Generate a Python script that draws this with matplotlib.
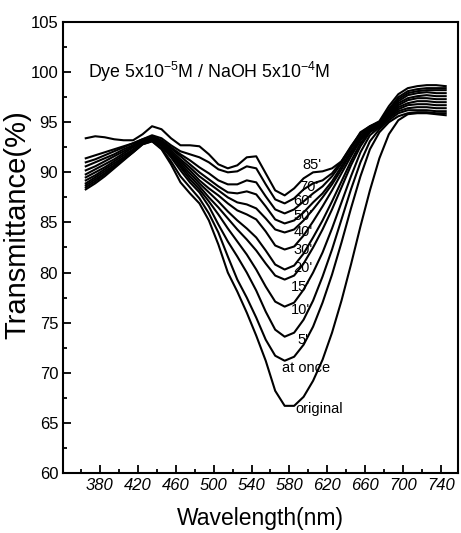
import matplotlib
matplotlib.use("Agg")
import matplotlib.pyplot as plt
from matplotlib.ticker import MultipleLocator

plt.rcParams['font.family'] = ['Liberation Sans', 'DejaVu Sans']
plt.rcParams['mathtext.fontset'] = 'custom'
plt.rcParams['mathtext.rm'] = 'Liberation Sans'

# Datos (transmitancia %, cada 10 nm)
wavelength = [365, 375, 385, 395, 405, 415, 425, 435, 445, 455, 465, 475, 485,
              495, 505, 515, 525, 535, 545, 555, 565, 575, 585, 595, 605, 615,
              625, 635, 645, 655, 665, 675, 685, 695, 705, 715, 725, 735, 745]

t_original = [88.3, 88.9, 89.6, 90.4, 91.2, 92.0, 92.8, 93.1, 92.3, 90.8, 89.0, 87.9, 86.9,
              85.2, 82.8, 80.0, 78.1, 76.0, 73.7, 71.2, 68.2, 66.7, 66.7, 67.6, 69.2, 71.3,
              74.0, 77.2, 80.8, 84.6, 88.2, 91.4, 93.8, 95.2, 95.8, 95.9, 95.9, 95.8, 95.7]
t_at_once = [88.5, 89.1, 89.8, 90.5, 91.3, 92.0, 92.8, 93.1, 92.4, 91.1, 89.6, 88.5, 87.4,
             85.9, 84.0, 81.6, 79.3, 77.5, 75.5, 73.3, 71.7, 71.2, 71.6, 72.8, 74.6, 77.0,
             79.8, 83.0, 86.4, 89.6, 92.3, 94.0, 95.0, 95.6, 95.9, 96.0, 96.0, 95.9, 95.9]
t_5 = [88.7, 89.3, 89.9, 90.6, 91.3, 92.1, 92.9, 93.2, 92.6, 91.5, 90.2, 89.0, 88.0,
       86.6, 84.8, 83.1, 81.6, 80.0, 78.2, 76.1, 74.3, 73.6, 74.0, 75.3, 77.2, 79.6,
       82.3, 85.3, 88.3, 91.0, 93.1, 94.3, 95.2, 95.9, 96.2, 96.2, 96.2, 96.1, 96.1]
t_10 = [88.9, 89.5, 90.1, 90.7, 91.4, 92.2, 92.9, 93.2, 92.7, 91.7, 90.5, 89.3, 88.3,
        87.1, 85.8, 84.4, 83.1, 81.8, 80.3, 78.6, 77.1, 76.6, 77.0, 78.3, 80.0, 82.0,
        84.4, 87.0, 89.6, 92.0, 93.7, 94.5, 95.4, 96.1, 96.4, 96.5, 96.5, 96.4, 96.4]
t_15 = [89.2, 89.7, 90.3, 90.9, 91.5, 92.2, 92.9, 93.2, 92.7, 91.8, 90.7, 89.6, 88.6,
        87.5, 86.5, 85.4, 84.3, 83.3, 82.2, 80.9, 79.7, 79.3, 79.7, 80.9, 82.5, 84.3,
        86.3, 88.5, 90.7, 92.6, 94.0, 94.6, 95.5, 96.3, 96.7, 96.8, 96.8, 96.7, 96.7]
t_20 = [89.5, 90.0, 90.5, 91.1, 91.7, 92.3, 93.0, 93.3, 92.8, 91.9, 90.9, 89.9, 88.9,
        88.0, 87.1, 86.1, 85.2, 84.4, 83.5, 82.2, 80.8, 80.3, 80.7, 81.9, 83.5, 85.2,
        87.1, 89.1, 91.1, 92.9, 94.1, 94.7, 95.6, 96.5, 96.9, 97.1, 97.1, 97.0, 97.0]
t_30 = [89.8, 90.3, 90.8, 91.3, 91.9, 92.5, 93.1, 93.4, 92.9, 92.0, 91.1, 90.2, 89.2,
        88.4, 87.7, 86.9, 86.2, 85.8, 85.3, 84.1, 82.7, 82.3, 82.6, 83.7, 85.1, 86.6,
        88.2, 89.9, 91.6, 93.2, 94.2, 94.7, 95.7, 96.7, 97.2, 97.4, 97.4, 97.3, 97.3]
t_40 = [90.2, 90.6, 91.1, 91.6, 92.1, 92.6, 93.2, 93.4, 93.0, 92.2, 91.3, 90.5, 89.6,
        88.9, 88.2, 87.5, 87.0, 86.8, 86.4, 85.4, 84.3, 84.0, 84.3, 85.2, 86.3, 87.5,
        88.8, 90.3, 91.9, 93.3, 94.3, 94.8, 95.8, 96.9, 97.4, 97.6, 97.7, 97.6, 97.6]
t_50 = [90.6, 91.0, 91.4, 91.8, 92.3, 92.7, 93.2, 93.5, 93.1, 92.4, 91.6, 90.8, 90.0,
        89.3, 88.6, 88.0, 87.9, 88.1, 87.8, 86.6, 85.3, 84.9, 85.2, 86.0, 87.0, 87.9,
        89.1, 90.6, 92.1, 93.5, 94.4, 94.9, 96.0, 97.1, 97.7, 97.9, 98.0, 97.9, 97.9]
t_60 = [91.0, 91.3, 91.7, 92.1, 92.5, 92.9, 93.3, 93.6, 93.2, 92.5, 91.8, 91.2, 90.5,
        89.9, 89.2, 88.8, 88.8, 89.2, 89.0, 87.6, 86.3, 85.9, 86.3, 87.1, 87.9, 88.6,
        89.6, 90.9, 92.4, 93.7, 94.5, 95.0, 96.1, 97.3, 97.9, 98.1, 98.2, 98.2, 98.2]
t_70 = [91.4, 91.7, 92.0, 92.3, 92.6, 92.9, 93.3, 93.7, 93.4, 92.7, 92.1, 91.8, 91.5,
        91.0, 90.3, 90.0, 90.1, 90.6, 90.4, 88.8, 87.3, 86.9, 87.4, 88.3, 88.9, 89.2,
        89.9, 91.1, 92.6, 93.9, 94.6, 95.0, 96.3, 97.5, 98.1, 98.3, 98.4, 98.4, 98.4]
t_85 = [93.4, 93.6, 93.5, 93.3, 93.2, 93.2, 93.8, 94.6, 94.3, 93.4, 92.7, 92.7, 92.6,
        91.8, 90.8, 90.4, 90.7, 91.5, 91.6, 89.9, 88.2, 87.7, 88.4, 89.4, 90.0, 90.1,
        90.4, 91.1, 92.5, 94.0, 94.6, 95.1, 96.6, 97.8, 98.4, 98.6, 98.7, 98.7, 98.6]

curve_names = ["original", "at once", "5'", "10'", "15'", "20'",
               "30'", "40'", "50'", "60'", "70'", "85'"]
series = [t_original, t_at_once, t_5, t_10, t_15, t_20,
          t_30, t_40, t_50, t_60, t_70, t_85]

# Posición de las etiquetas (nm, T)
label_x = [586, 572, 588, 582, 582, 584, 584, 584, 584, 584, 590, 594]
label_y = [66.4, 70.5, 73.3, 76.3, 78.6, 80.5, 82.3, 84.0, 85.6, 87.1, 88.5, 90.7]

# Graficar
fig = plt.figure(figsize=(4.61, 5.33), dpi=100)
ax = fig.add_axes([0.1367, 0.1126, 0.8568, 0.8461])

for t in series:
    ax.plot(wavelength, t, color='black', lw=1.5)

for name, lx, ly in zip(curve_names, label_x, label_y):
    ax.text(lx, ly, name, fontsize=10.5, va='center', ha='left')

ax.text(367, 100.0, 'Dye 5x10$^{-5}$M / NaOH 5x10$^{-4}$M', fontsize=12.8, va='center')

ax.set_xlim(341, 758)
ax.set_ylim(60, 105)
ax.xaxis.set_minor_locator(MultipleLocator(20))
ax.yaxis.set_major_locator(MultipleLocator(5))
ax.yaxis.set_minor_locator(MultipleLocator(2.5))
ax.set_xticks([380, 420, 460, 500, 540, 580, 620, 660, 700, 740])
ax.tick_params(which='both', direction='in', width=1.3, top=False, right=False)
ax.tick_params(which='major', length=6, labelsize=12)
ax.tick_params(which='minor', length=3)
for lab in ax.get_xticklabels():
    lab.set_fontstyle('italic')
for s in ax.spines.values():
    s.set_linewidth(1.5)

ax.set_xlabel('Wavelength(nm)', fontsize=16.5, labelpad=10)
ax.set_ylabel('Transmittance(%)', fontsize=21)
ax.yaxis.set_label_coords(-0.08, 0.55)

fig.savefig('out.png', dpi=100)
